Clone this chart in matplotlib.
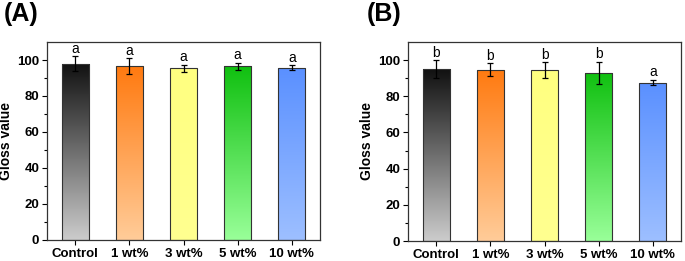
import numpy as np
import matplotlib
matplotlib.use("Agg")
import matplotlib.pyplot as plt
from matplotlib.colors import LinearSegmentedColormap

categories = ["Control", "1 wt%", "3 wt%", "5 wt%", "10 wt%"]
values_A = [98.0, 96.6, 95.5, 96.5, 95.8]
errors_A = [4.0, 4.3, 2.0, 2.0, 1.4]
letters_A = ["a", "a", "a", "a", "a"]
values_B = [95.0, 94.7, 94.4, 93.0, 87.6]
errors_B = [4.8, 3.5, 4.4, 6.0, 1.5]
letters_B = ["b", "b", "b", "b", "a"]

top_colors = ["#111111", "#ff7a10", "#ffff80", "#10c010", "#5a90ff"]
bottom_colors = ["#cccccc", "#ffcc99", "#ffff90", "#99ff99", "#9dbfff"]

plt.rcParams['font.family'] = ['Liberation Sans', 'DejaVu Sans']

fig = plt.figure(figsize=(6.85, 2.61), dpi=100)
axA = fig.add_axes([47/685, 21/261, 273/685, 198/261])
axB = fig.add_axes([408/685, 20/261, 273/685, 199/261])

def draw(ax, vals, errs, letters, title, title_x):
    x = np.arange(len(categories))
    bars = ax.bar(x, vals, width=0.5, color="none", edgecolor="#333333",
                  linewidth=0.8, zorder=3)
    grad = np.linspace(1, 0, 256).reshape(-1, 1)
    for b, tc, bc in zip(bars, top_colors, bottom_colors):
        cmap = LinearSegmentedColormap.from_list("g", [bc, tc])
        x0, w, h = b.get_x(), b.get_width(), b.get_height()
        im = ax.imshow(grad, cmap=cmap, vmin=0, vmax=1, aspect="auto",
                       extent=[x0, x0 + w, 0, h], zorder=2)
        im.set_clip_path(b)
    ax.errorbar(x, vals, yerr=errs, fmt="none", ecolor="black",
                elinewidth=0.9, capsize=2.5, capthick=0.9, zorder=4)
    for xi, v, e, l in zip(x, vals, errs, letters):
        ax.text(xi, v + e + 0.3, l, ha="center", va="bottom", fontsize=10)
    ax.set_xlim(-0.52, 4.52)
    ax.set_ylim(0, 110)
    ax.set_yticks([0, 20, 40, 60, 80, 100])
    ax.set_yticks(np.arange(10, 110, 20), minor=True)
    ax.set_xticks(x)
    ax.set_xticklabels(categories, fontweight="bold", fontsize=9.5)
    for lab in ax.get_yticklabels():
        lab.set_fontweight("bold")
        lab.set_fontsize(9.5)
    ax.tick_params(axis="both", which="major", direction="out", length=3.5,
                   width=0.8, top=False, right=False, pad=2)
    ax.tick_params(axis="y", which="minor", direction="out", length=2,
                   width=0.8)
    ax.set_ylabel("Gloss value", fontweight="bold", fontsize=10, labelpad=3)
    for s in ax.spines.values():
        s.set_linewidth(0.9)
        s.set_color("#333333")
    fig.text(title_x, 1 - 14/261, title, fontsize=18, fontweight="bold",
             ha="left", va="center")

draw(axA, values_A, errors_A, letters_A, "(A)", 4/685)
draw(axB, values_B, errors_B, letters_B, "(B)", 367/685)

fig.savefig("out.png", dpi=100)
